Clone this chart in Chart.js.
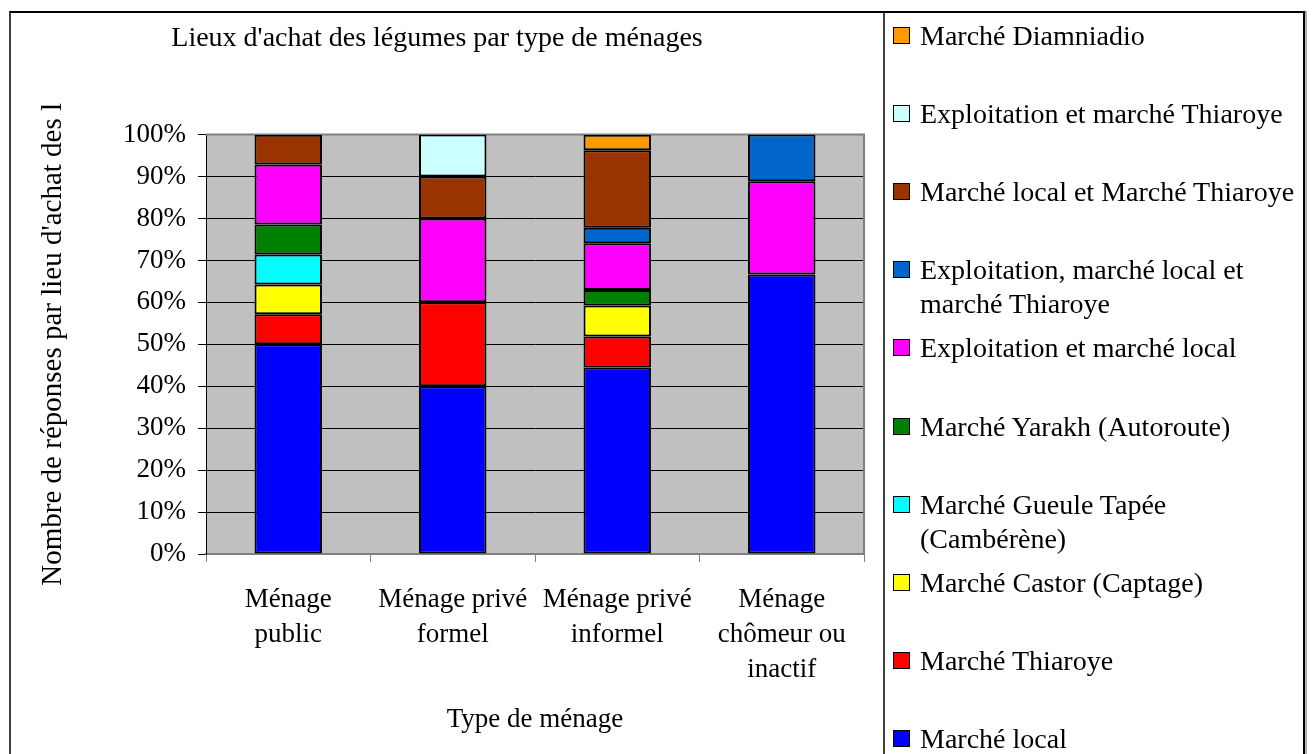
<!DOCTYPE html>
<html lang="fr">
<head>
<meta charset="utf-8">
<title>Lieux d'achat des légumes par type de ménages</title>
<script src="https://cdn.jsdelivr.net/npm/chart.js@4.4.1/dist/chart.umd.min.js"></script>
<style>
  html, body { margin: 0; padding: 0; background: #fff; }
  body {
    width: 1314px; height: 754px; position: relative; overflow: hidden;
    font-family: 'Liberation Serif', 'Times New Roman', serif; color: #000;
  }
  #frame {
    position: absolute; left: 9px; top: 11px; width: 1292px; height: 760px;
    border-top: 2px solid #000; border-left: 2px solid #404040; border-right: 2px solid #000;
    box-shadow: 2px 0 0 #b0b0b0;
  }
  #chart-box { position: absolute; left: 10px; top: 12px; width: 874px; height: 742px; }
  #legend {
    position: absolute; left: 883px; top: 13px; width: 418px; height: 741px;
    border-left: 2px solid #404040;
  }
  .lg-item {
    position: absolute; left: 8px; display: flex; align-items: flex-start;
    font-size: 28px; line-height: 34px;
  }
  .lg-swatch {
    width: 15px; height: 15px; border: 1px solid #000; flex: none;
    margin-top: 8px; margin-right: 10px;
  }
  .lg-text { width: 386px; }
</style>
</head>
<body>
<div id="frame"></div>
<div id="chart-box"><canvas id="achats"></canvas></div>
<div id="legend"></div>

<script>
// Household types (x categories), one array of lines per label
const categories = [
  ['Ménage', 'public'],
  ['Ménage privé', 'formel'],
  ['Ménage privé', 'informel'],
  ['Ménage', 'chômeur ou', 'inactif']
];

// Share of answers (%) per purchase place, same order as categories
const marcheLocal               = [50.00, 40.00, 44.44, 66.67];
const marcheThiaroye            = [ 7.14, 20.00,  7.41,  0];
const marcheCastor              = [ 7.14,  0,     7.41,  0];
const marcheGueuleTapee         = [ 7.14,  0,     0,     0];
const marcheYarakh              = [ 7.14,  0,     3.70,  0];
const exploitationLocal         = [14.29, 20.00, 11.11, 22.22];
const exploitationLocalThiaroye = [ 0,     0,     3.70, 11.11];
const localEtThiaroye           = [ 7.14, 10.00, 18.52,  0];
const exploitationThiaroye      = [ 0,    10.00,  0,     0];
const marcheDiamniadio          = [ 0,     0,     3.70,  0];

const yMin = 0, yMax = 100, yStep = 10;

const series = [
  { label: 'Marché local', data: marcheLocal, color: '#0000ff' },
  { label: 'Marché Thiaroye', data: marcheThiaroye, color: '#ff0000' },
  { label: 'Marché Castor (Captage)', data: marcheCastor, color: '#ffff00' },
  { label: 'Marché Gueule Tapée (Cambérène)', data: marcheGueuleTapee, color: '#00ffff' },
  { label: 'Marché Yarakh (Autoroute)', data: marcheYarakh, color: '#008000' },
  { label: 'Exploitation et marché local', data: exploitationLocal, color: '#ff00ff' },
  { label: 'Exploitation, marché local et marché Thiaroye', data: exploitationLocalThiaroye, color: '#0066cc' },
  { label: 'Marché local et Marché Thiaroye', data: localEtThiaroye, color: '#993300' },
  { label: 'Exploitation et marché Thiaroye', data: exploitationThiaroye, color: '#ccffff' },
  { label: 'Marché Diamniadio', data: marcheDiamniadio, color: '#ff9900' }
];

Chart.defaults.font.family = "'Liberation Serif', 'Times New Roman', serif";
Chart.defaults.color = '#000';

// Grey plot area with a thin grey frame, painted under the bars
const plotFrame = {
  id: 'plotFrame',
  beforeDraw(chart) {
    const { ctx, chartArea: a } = chart;
    ctx.save();
    ctx.fillStyle = '#c0c0c0';
    ctx.fillRect(a.left, a.top, a.width, a.height);
    ctx.restore();
  },
  beforeDatasetsDraw(chart) {
    const { ctx, chartArea: a } = chart;
    ctx.save();
    ctx.strokeStyle = '#808080';
    ctx.lineWidth = 2;
    ctx.beginPath();
    ctx.moveTo(a.left, a.top);
    ctx.lineTo(a.right, a.top);
    ctx.lineTo(a.right, a.bottom);
    ctx.stroke();
    ctx.restore();
  }
};

const chart = new Chart(document.getElementById('achats'), {
  type: 'bar',
  data: {
    labels: categories,
    datasets: series.map(s => ({
      label: s.label,
      // empty segments are left out so they draw no border
      data: s.data.map(v => v || null),
      backgroundColor: s.color,
      borderColor: '#000',
      borderWidth: 2,
      borderSkipped: false,
      categoryPercentage: 1,
      barPercentage: 0.41
    }))
  },
  options: {
    responsive: true,
    maintainAspectRatio: false,
    animation: false,
    layout: { padding: { left: 0, right: 20, top: 0, bottom: 0 } },
    plugins: {
      legend: { display: false },
      tooltip: { enabled: false },
      title: {
        display: true,
        text: "Lieux d'achat des légumes par type de ménages",
        font: { size: 28, weight: 'normal' },
        color: '#000',
        padding: { top: 10, bottom: 79 }
      }
    },
    scales: {
      x: {
        stacked: true,
        grid: { drawOnChartArea: false, drawTicks: true, tickLength: 8, color: '#808080', offset: true },
        border: { color: '#808080', width: 2 },
        ticks: { font: { size: 27, lineHeight: 1.3 }, padding: 20, maxRotation: 0, autoSkip: false },
        title: {
          display: true,
          text: 'Type de ménage',
          font: { size: 27, lineHeight: 1.2 },
          padding: { top: 18, bottom: 18 }
        },
        afterFit(scale) { scale.height = 200; }
      },
      y: {
        stacked: true,
        min: yMin,
        max: yMax,
        grid: { color: '#000', lineWidth: 1, tickLength: 8 },
        border: { color: '#000', width: 1 },
        ticks: {
          stepSize: yStep,
          font: { size: 27 },
          padding: 12,
          callback: v => v + '%'
        },
        title: {
          display: true,
          text: "Nombre de réponses par lieu d'achat des l",
          font: { size: 29, lineHeight: 1.2 },
          padding: { top: 26, bottom: 26 }
        },
        afterFit(scale) { scale.width = 196; }
      }
    }
  },
  plugins: [plotFrame]
});

// Legend drawn beside the chart, top item = last stacked series
const legendEl = document.getElementById('legend');
chart.data.datasets.slice().reverse().forEach((ds, i) => {
  const item = document.createElement('div');
  item.className = 'lg-item';
  item.style.top = (6 + i * 78.1) + 'px';
  item.innerHTML = `<span class="lg-swatch" style="background:${ds.backgroundColor}"></span>` +
                   `<span class="lg-text">${ds.label}</span>`;
  legendEl.appendChild(item);
});
</script>
</body>
</html>
